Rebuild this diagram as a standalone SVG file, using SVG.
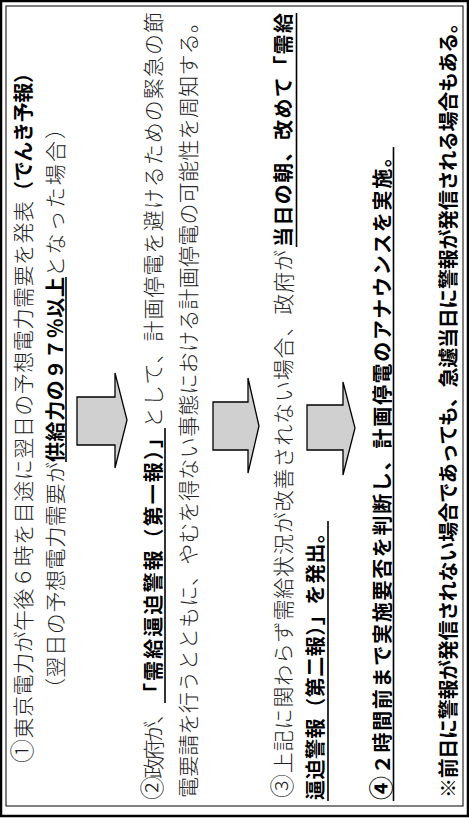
<svg xmlns="http://www.w3.org/2000/svg" width="469" height="818" viewBox="0 0 469 818">
<style>
.m{font-family:"Noto Sans CJK JP","Noto Sans CJK SC",sans-serif;font-size:21px;font-weight:300;fill:#222}
.b{font-family:"Noto Sans CJK JP","Noto Sans CJK SC",sans-serif;font-size:20px;font-weight:700;fill:#000}
.c{font-size:24px}
.u{stroke:#000;stroke-width:1.6;fill:none}
.arrow{fill:#d0d0d0;stroke:#000;stroke-width:1.3;stroke-linejoin:miter}
.frame{fill:none;stroke:#000}
</style>
<rect width="469" height="818" fill="#fff"/>
<g id="frame">
<rect class="frame" x="1" y="1" width="467" height="815" stroke-width="2.5"/>
<rect class="frame" x="6" y="6" width="457" height="800" stroke-width="1"/>
</g>
<g transform="translate(0,818) rotate(-90)">
<g id="step1">
<text class="m" x="55" y="31" textLength="562" lengthAdjust="spacing"><tspan class="c">①</tspan>東京電力が午後６時を目途に翌日の予想電力需要を発表</text>
<text class="b" x="617" y="31" textLength="138" lengthAdjust="spacing">（でんき予報）</text>
<text class="m" x="119" y="63" textLength="237" lengthAdjust="spacing">（翌日の予想電力需要が</text>
<text class="b" x="356" y="63" textLength="185" lengthAdjust="spacing">供給力の９７％以上</text>
<line class="u" x1="356" y1="66" x2="541" y2="66"/>
<text class="m" x="541" y="63" textLength="159" lengthAdjust="spacing">となった場合）</text>
</g>
<g id="step2">
<text class="m" x="18" y="161" textLength="97" lengthAdjust="spacing"><tspan class="c">②</tspan>政府が、</text>
<text class="b" x="115" y="161" textLength="275" lengthAdjust="spacing">「需給逼迫警報（第一報）」</text>
<line class="u" x1="115" y1="165" x2="390" y2="165"/>
<text class="m" x="390" y="161" textLength="416" lengthAdjust="spacing">として、計画停電を避けるための緊急の節</text>
<text class="m" x="20" y="196" textLength="786" lengthAdjust="spacing">電要請を行うとともに、やむを得ない事態における計画停電の可能性を周知する。</text>
</g>
<g id="step3">
<text class="m" x="20" y="291" textLength="548" lengthAdjust="spacing"><tspan class="c">③</tspan>上記に関わらず需給状況が改善されない場合、政府が</text>
<text class="b" x="571" y="291" textLength="234" lengthAdjust="spacing">当日の朝、改めて「需給</text>
<line class="u" x1="571" y1="296.5" x2="805" y2="296.5"/>
<text class="b" x="18" y="323" textLength="277" lengthAdjust="spacing">逼迫警報（第二報）」を発出。</text>
<line class="u" x1="17" y1="328" x2="297" y2="328"/>
</g>
<g id="step4">
<text class="b" x="18" y="390" textLength="653" lengthAdjust="spacing"><tspan class="c">④</tspan>２時間前まで実施要否を判断し、計画停電のアナウンスを実施。</text>
<line class="u" x1="17" y1="393.5" x2="671" y2="393.5"/>
</g>
<g id="note">
<text class="b" x="20" y="456" textLength="785" lengthAdjust="spacing">※前日に警報が発信されない場合であっても、急遽当日に警報が発信される場合もある。</text>
</g>
<g id="connectors">
<polygon class="arrow" points="373,77 421,77 421,115 445,115 398,127 350,115 373,115"/>
<polygon class="arrow" points="368,213 416,213 416,248 440,248 392,259 345,248 368,248"/>
<polygon class="arrow" points="368,307 413,307 413,343 436,343 390,355 343,343 368,343"/>
</g>
</g>
</svg>
